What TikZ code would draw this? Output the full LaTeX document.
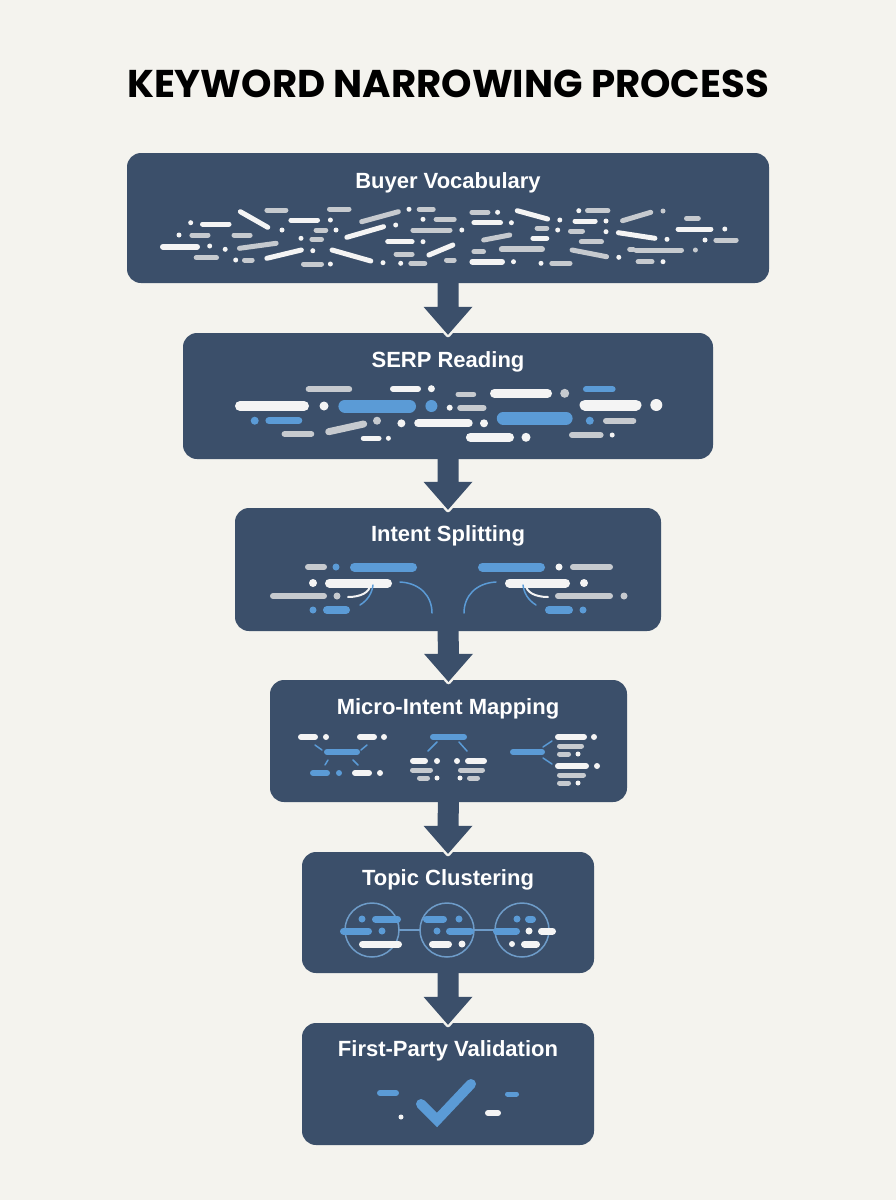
\documentclass[tikz,border=0pt]{standalone}
\usepackage{fontspec}
\usetikzlibrary{calc}
\newfontfamily\titlefont{Poppins}
\newfontfamily\lblfont{Liberation Sans}
\definecolor{navy}{HTML}{3B4F6A}
\definecolor{bgc}{HTML}{F4F3EE}
\definecolor{pw}{HTML}{F4F4F4}
\definecolor{pg}{HTML}{C6CACF}
\definecolor{pb}{HTML}{5B9BD6}
\definecolor{ring}{HTML}{6E9CC9}
% pill: [width]{color}{x1}{x2}{y}
\newcommand\pl[5][5]{\draw[line width=#1pt,line cap=round,draw=#2] ({#3+#1/2},#5) -- ({#4-#1/2},#5);}
% tilted pill
\newcommand\tl[6][5]{\draw[line width=#1pt,line cap=round,draw=#2] ({#3+#1/3},#4) -- ({#5-#1/3},#6);}
% dot: [radius]{color}{x}{y}
\newcommand\dt[4][2.5]{\fill[#2] (#3,#4) circle[radius=#1];}
\newcommand\flowarrow[2]{%
  \draw[bgc,line width=5pt,line join=round]
    ($(#2.north)+(-10.5,-26)$) -- ($(#2.north)+(-24.5,-26)$) -- ($(#2.north)+(0,2)$)
    -- ($(#2.north)+(24.5,-26)$) -- ($(#2.north)+(10.5,-26)$);
  \fill[navy] ($(#1.south)+(-10.5,-2)$) -- ($(#2.north)+(-10.5,-26)$) -- ($(#2.north)+(-24.5,-26)$)
    -- ($(#2.north)+(0,2)$) -- ($(#2.north)+(24.5,-26)$) -- ($(#2.north)+(10.5,-26)$)
    -- ($(#1.south)+(10.5,-2)$) -- cycle;}
\tikzset{
  stagebox/.style={fill=navy,rounded corners=14pt,inner sep=0pt,draw=none},
  lbl/.style={text=white,font=\lblfont\bfseries\fontsize{22}{26}\selectfont,anchor=base,inner sep=0pt},
  thinb/.style={draw=pb,line width=1.5pt,line cap=round},
}
\begin{document}
\begin{tikzpicture}[x=1pt,y=-1pt]
\fill[bgc] (0,0) rectangle (896,1200);
\useasboundingbox (0,0) rectangle (896,1200);
\node[font=\titlefont\bfseries\fontsize{38.7}{42}\selectfont,anchor=base,inner sep=0pt] (title) at (448,97) {KEYWORD NARROWING PROCESS};
% boxes
\node[stagebox,minimum width=642pt,minimum height=130pt] (b1) at (448,218) {};
\node[stagebox,minimum width=530pt,minimum height=126pt] (b2) at (448,396) {};
\node[stagebox,minimum width=426pt,minimum height=123pt] (b3) at (448,569.5) {};
\node[stagebox,minimum width=357pt,minimum height=122pt] (b4) at (448.5,741) {};
\node[stagebox,minimum width=292pt,minimum height=121pt] (b5) at (448,912.5) {};
\node[stagebox,minimum width=292pt,minimum height=122pt] (b6) at (448,1084) {};
\flowarrow{b1}{b2}
\flowarrow{b2}{b3}
\flowarrow{b3}{b4}
\flowarrow{b4}{b5}
\flowarrow{b5}{b6}
% labels
\node[lbl] (l1) at (448,188) {Buyer Vocabulary};
\node[lbl] (l2) at (448,367) {SERP Reading};
\node[lbl] (l3) at (448,541.5) {Intent Splitting};
\node[lbl] (l4) at (448,714) {Micro-Intent Mapping};
\node[lbl] (l5) at (448,885) {Topic Clustering};
\node[lbl] (l6) at (448,1056.5) {First-Party Validation};
% ---- box 1 : vocabulary scatter
\dt{pw}{190.7}{222.7} \pl{pw}{200}{231.5}{224}
\tl{pw}{238.7}{211.7}{269.4}{227.3}
\pl{pg}{264.4}{288.4}{210}
\pl{pw}{288.4}{320}{220} \dt{pw}{330.4}{220}
\pl{pg}{327}{351.5}{209}
\tl{pg}{360}{221.7}{400}{211.7} \dt{pw}{395.7}{225}
\dt{pw}{409}{209.3} \pl{pg}{416.7}{435.7}{209.3}
\dt{pw}{423}{219.3} \pl{pg}{433.6}{456.7}{219.3}
\pl{pg}{469.4}{490.4}{212.3} \dt{pw}{497.6}{212.3}
\pl{pw}{471.4}{503}{222.7} \dt{pw}{511.4}{222.7}
\tl{pw}{515.6}{210.7}{549.3}{219}
\dt{pw}{559.8}{220}
\dt{pw}{578.8}{210.7} \pl{pg}{585}{610.4}{210.7}
\pl{pw}{572.5}{597.7}{221} \dt{pw}{606}{221}
\tl{pg}{620.9}{220.7}{652.4}{212.3} \dt{pg}{663}{211}
\pl{pg}{684}{700.8}{218.3}
\pl{pw}{675.6}{713.4}{229} \dt{pw}{724.8}{229}
\dt{pw}{179}{235} \pl{pg}{189.4}{210.5}{235}
\pl{pg}{231.5}{252.6}{235}
\dt{pw}{282}{230}
\pl{pg}{313.6}{328.3}{230} \dt{pw}{336}{230}
\tl{pw}{345.2}{237.3}{385.2}{226.7}
\pl{pg}{410.4}{452.5}{230} \dt{pw}{461.8}{230}
\tl{pg}{482}{240}{511.4}{235}
\pl{pg}{534.6}{549.3}{228.3} \dt{pw}{557.7}{230}
\pl{pg}{568}{585}{231}
\dt{pw}{606}{231.7}
\tl{pw}{616.7}{232.7}{656.6}{238.3} \dt{pw}{667}{239.3}
\pl[6]{pw}{160}{200}{246.7} \dt{pw}{209.7}{246}
\dt{pw}{225.2}{249.3}
\tl{pg}{237.8}{248.3}{277.8}{243.3}
\dt{pw}{301}{238.3} \pl{pg}{309.4}{324}{239.3}
\pl{pw}{385.2}{414.6}{241.7} \dt{pw}{423}{241.7}
\pl[6]{pg}{498.8}{545}{249.3}
\pl{pw}{530.4}{549.3}{238.3}
\pl{pg}{578.8}{604}{241.7}
\pl{pg}{633.5}{684}{250} \dt{pg}{695.4}{250}
\dt{pw}{705}{240} \pl{pg}{713.4}{738.7}{240}
\pl{pg}{193.7}{219}{257.7}
\dt{pw}{235.7}{260} \pl{pg}{242}{254.7}{260}
\tl{pw}{265.2}{258.3}{303}{250} \dt{pw}{312.8}{250.7}
\pl{pg}{301}{324}{264} \dt{pw}{330.4}{264}
\tl{pw}{330.4}{250}{372.5}{261}
\dt{pw}{383}{262.7} \dt{pw}{400.7}{263.3} \pl{pg}{408.3}{427.3}{263.3}
\pl{pg}{393.6}{414.6}{254}
\tl{pw}{427.3}{255}{454.6}{245}
\pl{pg}{444}{456.7}{260}
\pl[6]{pw}{469.4}{505}{261.7} \dt{pw}{513.5}{261.7}
\pl{pg}{471.4}{486}{251.7}
\dt{pw}{541}{263.3} \pl{pg}{549.3}{572.5}{263.3}
\tl{pg}{570.4}{250}{608.2}{256.7} \dt{pw}{618.8}{257.3}
\pl{pg}{627.2}{635.6}{249.3}
\pl{pg}{635.6}{654.5}{261.7} \dt{pw}{663}{261.7}
% ---- box 2 : SERP reading
\pl[6]{pg}{305.7}{352.2}{389.3}
\pl[6]{pw}{390}{421}{388.7} \dt[3.5]{pw}{431.4}{388.7}
\pl[5]{pg}{455.5}{476.2}{394.3}
\pl[9]{pw}{490}{552}{393.3} \dt[4.5]{pg}{564.7}{393.3}
\pl[6]{pb}{583}{615.6}{389.3}
\pl[10]{pw}{235}{309}{406} \dt[4.5]{pw}{324}{406}
\pl[13]{pb}{338.4}{416}{406}
\dt[6]{pb}{431.4}{406}
\dt[3]{pw}{449.7}{407.7} \pl[6]{pg}{457.2}{486.5}{407.7}
\pl[11]{pw}{579.5}{641.5}{405} \dt[6]{pw}{656.3}{405}
\dt[4]{pb}{254.7}{420.7} \pl[7]{pb}{265.4}{302.3}{420.7}
\pl[13]{pb}{496.8}{572.6}{418.3}
\tl[7]{pg}{326.4}{431.7}{366}{424}
\dt[4]{pg}{377}{420.7}
\dt[4]{pw}{401.4}{423.3} \pl[8]{pw}{414.2}{472.7}{423.3} \dt[4]{pw}{484}{423.3}
\dt[4]{pb}{589.8}{420.7} \pl[6]{pg}{603}{636.3}{420.7}
\pl[6]{pg}{281.6}{314.3}{434}
\pl[5]{pw}{360.8}{381.5}{438.3} \dt{pw}{388.4}{438.3}
\pl[9]{pw}{465.9}{514}{437.3} \dt[4.5]{pw}{526}{437.3}
\pl[6]{pg}{569}{603.6}{435} \dt{pw}{612.2}{435}
% ---- box 3 : intent splitting
\pl[6]{pg}{305}{327}{567} \dt[3.5]{pb}{336}{567}
\pl[9]{pb}{350}{417}{567}
\dt[4]{pw}{313}{583} \pl[9]{pw}{325}{392}{583}
\pl[6]{pg}{270}{327}{596} \dt[3.5]{pg}{337}{596}
\dt[3.5]{pb}{313}{610} \pl[8]{pb}{323}{350}{610}
\draw[pw,line width=2pt,line cap=round] (348,597) .. controls (361,597) and (370,592) .. (370,585);
\draw[pb,line width=1.5pt,line cap=round] (360,605) .. controls (368,600) and (372,593) .. (373,585);
\draw[pb,line width=1.5pt,line cap=round] (400,582) .. controls (420,583) and (432,596) .. (432,613);
\pl[9]{pb}{478}{545}{567} \dt[3.5]{pw}{559}{567} \pl[6]{pg}{570}{613}{567}
\pl[9]{pw}{505}{570}{583} \dt[4]{pw}{584}{583}
\pl[6]{pg}{555}{613}{596} \dt[3.5]{pg}{624}{596}
\pl[8]{pb}{545}{573}{610} \dt[3.5]{pb}{583}{610}
\draw[pw,line width=2pt,line cap=round] (548,597) .. controls (535,597) and (526,592) .. (526,585);
\draw[pb,line width=1.5pt,line cap=round] (536,605) .. controls (528,600) and (524,593) .. (523,585);
\draw[pb,line width=1.5pt,line cap=round] (496,582) .. controls (476,583) and (464,596) .. (464,613);
% ---- box 4 : micro-intent mapping
\pl[6]{pw}{298}{318}{737} \dt[3]{pw}{326}{737}
\pl[6]{pw}{357}{377}{737} \dt[3]{pw}{384}{737}
\draw[thinb] (315,745) -- (322,750);
\draw[thinb] (367,745) -- (361,750);
\pl[6]{pb}{324}{360}{752}
\draw[thinb] (328,760) -- (325,765);
\draw[thinb] (353,760) -- (358,765);
\pl[6]{pb}{310}{330}{773} \dt[3]{pb}{339}{773}
\pl[6]{pw}{352}{372}{773} \dt[3]{pw}{380}{773}
\pl[6]{pb}{430}{467}{737}
\draw[thinb] (437,742) -- (428,751);
\draw[thinb] (459,742) -- (467,751);
\pl[6]{pw}{410}{428}{761} \dt[3]{pw}{437}{761}
\dt[3]{pw}{457}{761} \pl[6]{pw}{465}{487}{761}
\pl[5]{pg}{410}{433}{770} \pl[5]{pg}{458}{485}{770}
\pl[5]{pg}{417}{430}{778} \dt[2.5]{pw}{437}{778}
\dt[2.5]{pw}{460}{778} \pl[5]{pg}{467}{480}{778}
\pl[6]{pb}{510}{545}{752}
\draw[thinb] (543,747) -- (552,741);
\draw[thinb] (543,758) -- (552,764);
\pl[6]{pw}{555}{587}{737} \dt[3]{pw}{594}{737}
\pl[5]{pg}{557}{584}{746}
\pl[5]{pg}{557}{571}{754} \dt[2.5]{pw}{578}{754}
\pl[6]{pw}{555}{589}{766} \dt[3]{pw}{597}{766}
\pl[5]{pg}{557}{586}{775}
\pl[5]{pg}{557}{571}{783} \dt[2.5]{pw}{578}{783}
% ---- box 5 : topic clustering
\draw[ring,line width=1.5pt] (372,930) circle[radius=27];
\draw[ring,line width=1.5pt] (447,930) circle[radius=27];
\draw[ring,line width=1.5pt] (522,930) circle[radius=27];
\draw[ring,line width=1.5pt] (399,930) -- (420,930);
\draw[ring,line width=1.5pt] (474,930) -- (495,930);
\dt[3.5]{pb}{362}{919} \pl[7]{pb}{372}{401}{919}
\pl[7]{pb}{340}{372}{931} \dt[3.5]{pb}{382}{931}
\pl[7]{pw}{359}{402}{944}
\pl[7]{pb}{423}{447}{919} \dt[3.5]{pb}{459}{919}
\dt[3.5]{pb}{437}{931} \pl[7]{pb}{446}{474}{931}
\pl[7]{pw}{429}{452}{944} \dt[3.5]{pw}{462}{944}
\dt[3.5]{pb}{517}{919} \pl[7]{pb}{525}{536}{919}
\pl[7]{pb}{493}{520}{931} \dt[3.5]{pw}{529}{931} \pl[7]{pw}{538}{556}{931}
\dt[3]{pw}{512}{944} \pl[7]{pw}{521}{540}{944}
% ---- box 6 : validation
\pl[6]{pb}{377}{399}{1093}
\dt[2.5]{pw}{401}{1117}
\draw[pb,line width=10pt,line cap=round,line join=miter] (421,1104) -- (437,1120) -- (471,1084);
\pl[6]{pw}{485}{501}{1113}
\pl[5]{pb}{505}{519}{1094}
\end{tikzpicture}
\end{document}
